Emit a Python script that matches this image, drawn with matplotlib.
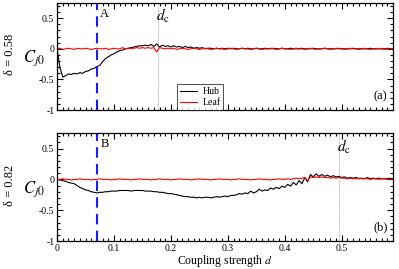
import matplotlib
matplotlib.use("Agg")
import matplotlib.pyplot as plt
import numpy as np

plt.rcParams["font.family"] = ["Liberation Serif", "DejaVu Serif"]
plt.rcParams["mathtext.fontset"] = "stix"

# coupling strength grid (step 0.005, 0 .. 0.59)
d = np.round(np.arange(119) * 0.005, 3)

# panel (a), delta = 0.58
hub_a = [
    0.00, -0.30, -0.46, -0.44, -0.41, -0.42, -0.40, -0.41, -0.39, -0.40,
    -0.37, -0.36, -0.33, -0.32, -0.29, -0.27, -0.21, -0.16, -0.13, -0.10,
    -0.08, -0.05, -0.03, -0.02, 0.00, 0.01, 0.02, 0.03, 0.04, 0.05,
    0.05, 0.06, 0.05, 0.07, 0.04, 0.08, 0.03, 0.06, 0.04, 0.05,
    0.03, 0.05, 0.03, 0.04, 0.02, 0.04, 0.02, 0.03, 0.01, 0.02,
    0.01, 0.02, 0.00, 0.01, 0.01, 0.00, 0.01, 0.00, 0.01, 0.00,
    0.01, 0.00, 0.01, 0.00, 0.00, 0.01, 0.00, 0.01, 0.00, 0.00,
    0.01, 0.00, 0.00, 0.01, 0.00, 0.00, 0.01, 0.00, 0.00, 0.01,
    0.00, 0.00, 0.01, 0.00, 0.00, 0.00, 0.01, 0.00, 0.00, 0.00,
    0.01, 0.00, 0.00, 0.00, 0.01, 0.00, 0.00, 0.00, 0.00, 0.01,
    0.00, 0.00, 0.00, 0.00, 0.01, 0.00, 0.00, 0.00, 0.00, 0.00,
    0.01, 0.00, 0.00, 0.00, 0.00, 0.00, 0.01, 0.00, 0.00,
]
leaf_a = [
    0.00, 0.01, -0.01, 0.00, 0.01, 0.00, -0.01, 0.01, 0.00, 0.00,
    0.01, 0.00, -0.01, 0.00, 0.01, 0.00, 0.00, 0.01, -0.01, 0.00,
    0.01, 0.00, 0.00, 0.02, 0.00, 0.01, 0.00, 0.01, 0.02, 0.01,
    0.02, 0.01, 0.02, 0.01, 0.02, -0.05, 0.02, 0.01, 0.00, 0.01,
    0.00, 0.01, -0.01, 0.00, 0.01, 0.00, -0.01, 0.00, 0.01, 0.00,
    -0.01, 0.00, 0.01, 0.00, -0.01, 0.00, 0.01, 0.00, 0.00, -0.01,
    0.00, 0.01, 0.00, -0.01, 0.00, 0.01, 0.00, 0.00, -0.01, 0.00,
    0.01, 0.00, -0.01, 0.00, 0.00, 0.01, 0.00, -0.01, 0.00, 0.01,
    0.00, 0.00, -0.01, 0.00, 0.01, 0.00, 0.00, -0.01, 0.00, 0.01,
    0.00, -0.01, 0.00, 0.00, 0.01, 0.00, -0.01, 0.00, 0.01, 0.00,
    0.00, -0.01, 0.00, 0.01, 0.00, 0.00, -0.01, 0.00, 0.01, 0.00,
    -0.01, 0.00, 0.00, 0.01, 0.00, -0.01, 0.00, 0.00, 0.00,
]

# panel (b), delta = 0.82
hub_b = [
    0.00, -0.01, -0.02, -0.03, -0.05, -0.06, -0.07, -0.10, -0.13, -0.15,
    -0.17, -0.18, -0.20, -0.21, -0.22, -0.21, -0.21, -0.20, -0.20, -0.19,
    -0.19, -0.19, -0.18, -0.18, -0.18, -0.18, -0.19, -0.18, -0.18, -0.18,
    -0.18, -0.19, -0.19, -0.19, -0.20, -0.20, -0.21, -0.21, -0.22, -0.23,
    -0.23, -0.24, -0.25, -0.26, -0.27, -0.28, -0.28, -0.29, -0.29, -0.30,
    -0.29, -0.30, -0.29, -0.29, -0.30, -0.29, -0.28, -0.29, -0.28, -0.27,
    -0.28, -0.26, -0.26, -0.25, -0.23, -0.24, -0.22, -0.23, -0.19, -0.22,
    -0.20, -0.16, -0.19, -0.17, -0.18, -0.14, -0.16, -0.13, -0.15, -0.11,
    -0.13, -0.08, -0.11, -0.05, -0.09, -0.02, -0.07, 0.03, -0.04, 0.08,
    0.04, 0.09, 0.05, 0.08, 0.05, 0.07, 0.04, 0.06, 0.04, 0.05,
    0.03, 0.04, 0.02, 0.03, 0.02, 0.03, 0.01, 0.02, 0.01, 0.03,
    0.01, 0.02, 0.01, 0.02, 0.01, 0.01, 0.01, 0.02, 0.01,
]
leaf_b = [
    0.00, 0.00, 0.01, 0.00, 0.00, -0.01, 0.00, 0.00, 0.01, 0.00,
    0.00, 0.00, -0.01, 0.00, 0.00, 0.01, 0.00, 0.00, 0.00, -0.01,
    0.00, 0.00, 0.01, 0.00, 0.00, 0.00, -0.01, 0.00, 0.00, 0.01,
    0.00, 0.00, 0.00, -0.01, 0.00, 0.00, 0.01, 0.00, 0.00, 0.00,
    -0.01, 0.00, 0.00, 0.01, 0.00, 0.00, 0.00, -0.01, 0.00, 0.00,
    0.01, 0.00, 0.00, 0.00, -0.01, 0.00, 0.00, 0.01, 0.00, 0.00,
    0.00, -0.01, 0.00, 0.00, 0.01, 0.00, 0.00, 0.00, -0.01, 0.00,
    0.00, 0.01, 0.00, 0.00, 0.00, -0.01, 0.00, 0.00, 0.01, 0.00,
    0.00, 0.01, 0.00, 0.01, 0.02, 0.01, 0.02, 0.03, -0.02, 0.04,
    0.03, 0.04, 0.03, 0.04, 0.03, 0.03, 0.02, 0.03, 0.02, 0.03,
    0.02, 0.02, 0.01, 0.02, 0.01, 0.01, 0.02, 0.01, 0.01, 0.01,
    0.00, 0.01, 0.01, 0.00, 0.01, 0.01, 0.00, 0.01, 0.01,
]

deltas = ["0.58", "0.82"]
marks = ["A", "B"]
mark_d = [0.07, 0.07]
d_c = [0.177, 0.495]
panel_tags = ["(a)", "(b)"]

fig = plt.figure(figsize=(3.99, 2.69), dpi=100)
ax_a = fig.add_axes([0.143, 0.591, 0.842, 0.398])
ax_b = fig.add_axes([0.143, 0.104, 0.842, 0.401])

for i, (ax, hub, leaf) in enumerate([(ax_a, hub_a, leaf_a), (ax_b, hub_b, leaf_b)]):
    ax.plot(d, hub, color="black", lw=0.8, label="Hub")
    ax.plot(d, leaf, color="red", lw=0.8, label="Leaf")
    ax.axvline(mark_d[i], color="#1a1aff", lw=1.5, ls=(0, (5, 3)))
    ax.axvline(d_c[i], color="gray", lw=0.5, ls=(0, (1, 1)))
    ax.text(mark_d[i] + 0.006, 0.52, marks[i], fontsize=9)
    ax.text(d_c[i] - 0.004, 0.45, r"$d_{\rm c}$", fontsize=11)
    ax.text(0.555, -0.82, panel_tags[i], fontsize=9)

    ax.set_xlim(0, 0.59)
    ax.set_ylim(-1, 0.75)
    ax.set_xticks([0, 0.1, 0.2, 0.3, 0.4, 0.5])
    ax.set_xticks(np.arange(0, 0.59, 0.01), minor=True)
    ax.set_yticks([-1, -0.5, 0, 0.5])
    ax.set_yticks(np.arange(-1, 0.75, 0.1), minor=True)
    ax.set_yticklabels(["-1", "-0.5", "0", "0.5"])
    ax.tick_params(which="both", direction="in", top=True, right=True,
                   labelsize=7, width=0.8, pad=2)
    ax.tick_params(which="major", length=4)
    ax.tick_params(which="minor", length=2)
    for s in ax.spines.values():
        s.set_linewidth(0.9)

    ax.text(-0.068, 0.48, r"$C_{j0}$", fontsize=12, ha="center", va="center",
            transform=ax.transAxes)
    ax.text(-0.14, 0.52, "\u03b4 = " + deltas[i], fontsize=9, rotation=90,
            ha="center", va="center", transform=ax.transAxes)

ax_a.set_xticklabels([])
ax_b.set_xticklabels(["0", "0.1", "0.2", "0.3", "0.4", "0.5"])
ax_b.set_xlabel(r"Coupling strength $d$", fontsize=8.5, labelpad=0)

leg = ax_a.legend(loc="lower left", bbox_to_anchor=(0.357, 0.0), fontsize=7,
                  frameon=True, fancybox=False, edgecolor="black",
                  handlelength=1.8, borderpad=0.3, labelspacing=0.2,
                  handletextpad=0.5, borderaxespad=0)
leg.get_frame().set_linewidth(0.6)

fig.savefig("out.png", dpi=100)
